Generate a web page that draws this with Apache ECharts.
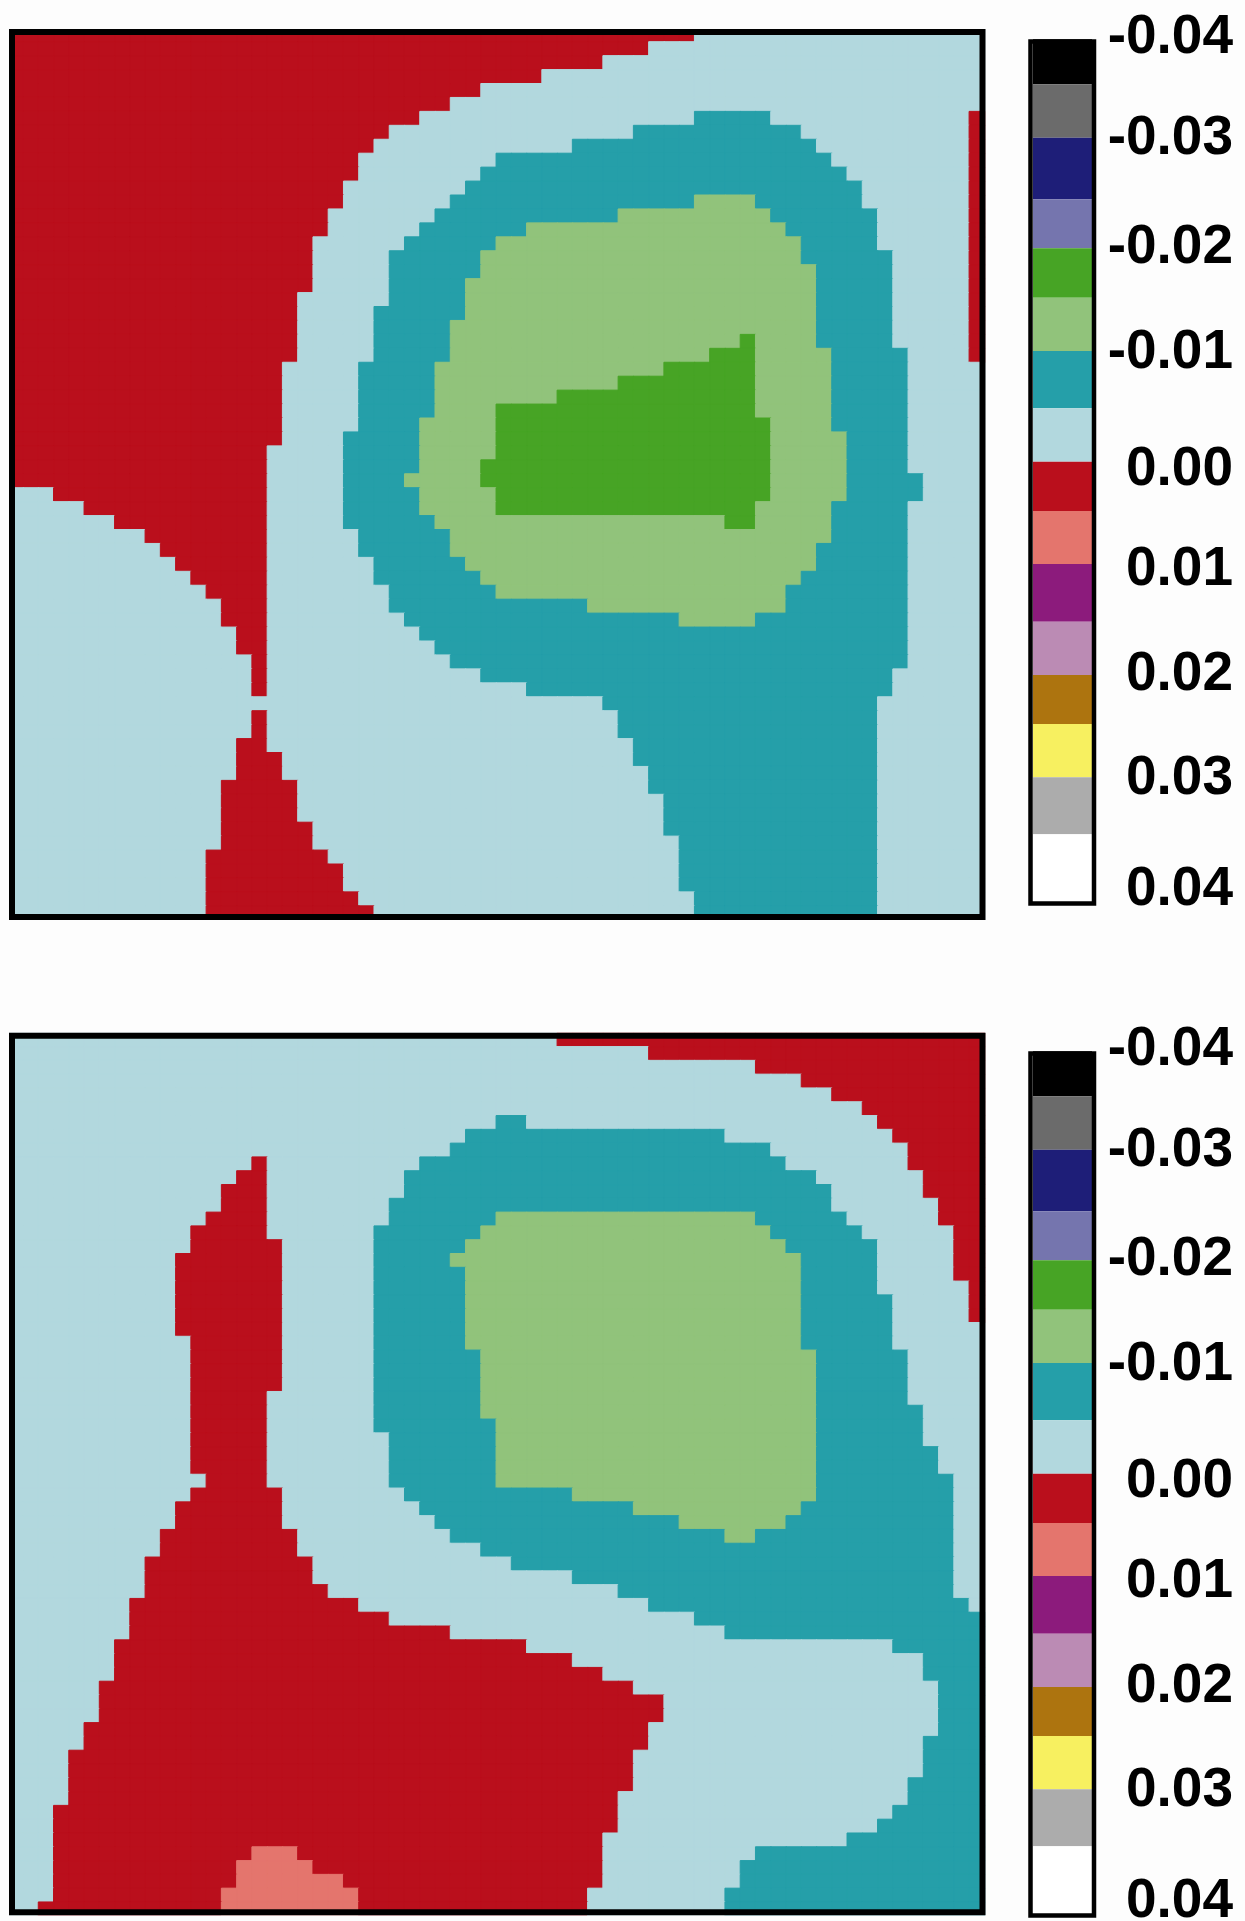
<!DOCTYPE html>
<html>
<head>
<meta charset="utf-8">
<style>html,body{margin:0;padding:0;background:#fdfdfd}#c{width:1245px;height:1921px}</style>
<script src="https://cdn.jsdelivr.net/npm/echarts@6/dist/echarts.min.js"></script>
</head>
<body>
<div id="c"></div>
<script>
// Each row: runs of <class letter><exclusive end column>
const topRows = [
'R45 L64','R42 L64','R39 L64','R35 L64','R31 L64','R29 L64',
'R27 L45 T50 L63 R64','R25 L41 T52 L63 R64','R24 L37 T53 L63 R64','R23 L32 T54 L63 R64',
'R23 L31 T55 L63 R64','R22 L30 T56 L63 R64','R22 L29 T45 G49 T56 L63 R64','R21 L28 T40 G50 T57 L63 R64',
'R21 L27 T34 G51 T57 L63 R64','R20 L26 T32 G52 T57 L63 R64','R20 L25 T31 G52 T58 L63 R64','R20 L25 T31 G53 T58 L63 R64',
'R20 L25 T30 G53 T58 L63 R64','R19 L25 T30 G53 T58 L63 R64','R19 L24 T30 G53 T58 L63 R64','R19 L24 T29 G53 T58 L63 R64',
'R19 L24 T29 G48 D49 G53 T58 L63 R64','R19 L24 T29 G46 D49 G54 T59 L63 R64','R18 L23 T28 G43 D49 G54 T59 L64','R18 L23 T28 G40 D49 G54 T59 L64',
'R18 L23 T28 G36 D49 G54 T59 L64','R18 L23 T28 G32 D49 G54 T59 L64','R18 L23 T27 G32 D50 G54 T59 L64','R18 L22 T27 G32 D50 G55 T59 L64',
'R17 L22 T27 G32 D50 G55 T59 L64','R17 L22 T27 G31 D50 G55 T59 L64','R17 L22 T26 G31 D50 G55 T60 L64','L3 R17 L22 T27 G32 D50 G55 T60 L64',
'L5 R17 L22 T27 G32 D49 G54 T59 L64','L7 R17 L22 T28 G47 D49 G54 T59 L64','L9 R17 L23 T29 G54 T59 L64','L10 R17 L23 T29 G53 T59 L64',
'L11 R17 L24 T30 G53 T59 L64','L12 R17 L24 T31 G52 T59 L64','L13 R17 L25 T32 G51 T59 L64','L14 R17 L25 T38 G51 T59 L64',
'L14 R17 L26 T44 G49 T59 L64','L15 R17 L27 T59 L64','L15 R17 L28 T59 L64','L16 R17 L29 T59 L64',
'L16 R17 L31 T58 L64','L16 R17 L34 T58 L64','L39 T57 L64','L16 R17 L40 T57 L64',
'L16 R17 L40 T57 L64','L15 R17 L41 T57 L64','L15 R18 L41 T57 L64','L15 R18 L42 T57 L64',
'L14 R19 L42 T57 L64','L14 R19 L43 T57 L64','L14 R19 L43 T57 L64','L14 R20 L43 T57 L64',
'L14 R20 L44 T57 L64','L13 R21 L44 T57 L64','L13 R22 L44 T57 L64','L13 R22 L44 T57 L64',
'L13 R23 L45 T57 L64','L13 R24 L45 T57 L64'
];
const bottomRows = [
'L36 R64','L42 R64','L49 R64','L52 R64','L54 R64','L56 R64',
'L32 T34 L57 R64','L30 T47 L58 R64','L29 T50 L59 R64','L16 R17 L27 T51 L59 R64',
'L15 R17 L26 T53 L60 R64','L14 R17 L26 T54 L60 R64','L14 R17 L25 T54 L61 R64','L13 R17 L25 T32 G49 T55 L61 R64',
'L12 R17 L24 T31 G50 T56 L62 R64','L12 R18 L24 T30 G51 T57 L62 R64','L11 R18 L24 T29 G52 T57 L62 R64','L11 R18 L24 T30 G52 T57 L62 R64',
'L11 R18 L24 T30 G52 T57 L63 R64','L11 R18 L24 T30 G52 T58 L63 R64','L11 R18 L24 T30 G52 T58 L63 R64','L11 R18 L24 T30 G52 T58 L64',
'L12 R18 L24 T30 G52 T58 L64','L12 R18 L24 T31 G53 T59 L64','L12 R18 L24 T31 G53 T59 L64','L12 R18 L24 T31 G53 T59 L64',
'L12 R17 L24 T31 G53 T59 L64','L12 R17 L24 T31 G53 T60 L64','L12 R17 L24 T32 G53 T60 L64','L12 R17 L25 T32 G53 T60 L64',
'L12 R17 L25 T32 G53 T61 L64','L12 R17 L25 T32 G53 T61 L64','L13 R17 L25 T32 G53 T62 L64','L12 R18 L26 T37 G53 T62 L64',
'L11 R18 L27 T41 G52 T62 L64','L11 R18 L28 T44 G51 T62 L64','L10 R19 L29 T47 G49 T62 L64','L10 R19 L31 T62 L64',
'L9 R20 L33 T62 L64','L9 R20 L37 T62 L64','L9 R21 L40 T62 L64','L8 R23 L42 T63 L64',
'L8 R25 L45 T64','L8 R29 L47 T64','L7 R34 L58 T64','L7 R37 L60 T64',
'L7 R39 L60 T64','L6 R41 L61 T64','L6 R43 L61 T64','L6 R43 L61 T64',
'L5 R42 L61 T64','L5 R42 L60 T64','L4 R41 L60 T64','L4 R41 L60 T64',
'L4 R41 L59 T64','L4 R40 L59 T64','L3 R40 L58 T64','L3 R40 L57 T64',
'L3 R39 L55 T64','L3 R16 S19 R39 L49 T64','L3 R15 S20 R39 L48 T64','L3 R15 S22 R39 L48 T64',
'L3 R14 S23 R38 L47 T64','L2 R14 S23 R38 L47 T64'
];
const binColors = ['#000000','#6b6b6b','#1e1e78','#7575ae','#47a425','#91c37b','#259fa9','#b2d8de',
                   '#ba0f1c','#e4756d','#8c1b7c','#bb8bb4','#ad740f','#f7f060','#acacac','#ffffff'];
const classBin = {D:4, G:5, T:6, L:7, R:8, S:9};
const binEdges = [-0.04,-0.03583,-0.03087,-0.02516,-0.02061,-0.01603,-0.01108,-0.00577,-0.00081,
                  0.00376,0.00868,0.01403,0.01897,0.02352,0.02846,0.03375,0.04];
const tickPositions = [-0.04015,-0.0308,-0.02069,-0.01095,-0.0001,0.00918,0.01892,0.02857,0.03887];
const tickLabels = ['-0.04','-0.03','-0.02','-0.01','0.00','0.01','0.02','0.03','0.04'];
const gridSize = 64;

function cellsFrom(rows){
  const out = [];
  rows.forEach((row, r) => {
    let c = 0;
    row.split(' ').forEach(run => {
      const end = +run.slice(1), bin = classBin[run[0]];
      for (; c < end; c++) out.push({value:[c, r, bin],
        itemStyle:{borderColor:binColors[bin], borderWidth:1}});
    });
  });
  return out;
}
const idx = Array.from({length: gridSize}, (_, i) => String(i));
const barData = binColors.map((_, i) => [binEdges[i], binEdges[i + 1], i]);
const labelOf = v => tickLabels[tickPositions.indexOf(v)];

function barRender(params, api){
  const a = api.coord([0, api.value(0)]), b = api.coord([1, api.value(1)]);
  return {type:'rect', shape:{x:a[0], y:a[1], width:b[0]-a[0], height:b[1]-a[1]},
          style:{fill: binColors[api.value(2)]}};
}
const cat = (gridIndex, inverse) => ({type:'category', data:idx, gridIndex, inverse, show:false});
const frame = {show:true, borderColor:'#000', borderWidth:6, backgroundColor:'transparent', z:10};
const mask = {show:true, borderColor:'#fdfdfd', borderWidth:4, backgroundColor:'transparent', z:9};
const barFrame = {show:true, borderColor:'#000', borderWidth:4.5, backgroundColor:'transparent', z:10};
const panelOffset = [0, 1012];

const grid = [
  {left:8, top:28, width:976.6, height:892},
  {left:8, top:1033, width:976.6, height:883},
  {left:1033, top:20, width:59, height:885},
  {left:1033, top:20 + panelOffset[1], width:59, height:885},
  Object.assign({left:7, top:27, width:980.5, height:895}, mask),
  Object.assign({left:7, top:1030.75, width:980.5, height:886.5}, mask),
  Object.assign({left:12, top:32, width:970.5, height:885}, frame),
  Object.assign({left:12, top:1035.75, width:970.5, height:876.5}, frame),
  Object.assign({left:1030.5, top:41.5, width:63.5, height:862}, barFrame),
  Object.assign({left:1030.5, top:41.5 + panelOffset[1], width:63.5, height:862}, barFrame)
].map(g => Object.assign({outerBoundsMode:'none'}, g));
const barY = gridIndex => ({
  type:'value', gridIndex, inverse:true, min:-0.04179, max:0.04031, position:'right',
  splitLine:{show:false}, axisLine:{show:false}, axisTick:{show:false},
  axisLabel:{customValues:tickPositions, formatter:labelOf, align:'right', margin:141,
    fontFamily:'Liberation Sans', fontWeight:'bold', fontSize:55, color:'#000'}
});
const barX = gridIndex => ({type:'value', gridIndex, min:0, max:1, show:false});

const heat = (rows, i) => ({
  type:'heatmap', xAxisIndex:i, yAxisIndex:i, data:cellsFrom(rows),
  progressive:0, emphasis:{disabled:true}
});
const bars = i => ({
  type:'custom', xAxisIndex:i, yAxisIndex:i, data:barData, renderItem:barRender,
  encode:{y:[0,1]}, silent:true, clip:false
});

const chart = echarts.init(document.getElementById('c'), null, {renderer:'canvas'});
chart.setOption({
  animation:false,
  backgroundColor:'#fdfdfd',
  tooltip:{show:false},
  grid,
  xAxis:[cat(0,false), cat(1,false), barX(2), barX(3)],
  yAxis:[cat(0,true), cat(1,true), barY(2), barY(3)],
  visualMap:{type:'piecewise', show:false, dimension:2, seriesIndex:[0,1],
    pieces:binColors.map((color, value) => ({value, color}))},
  series:[heat(topRows,0), heat(bottomRows,1), bars(2), bars(3)]
});
</script>
</body>
</html>
